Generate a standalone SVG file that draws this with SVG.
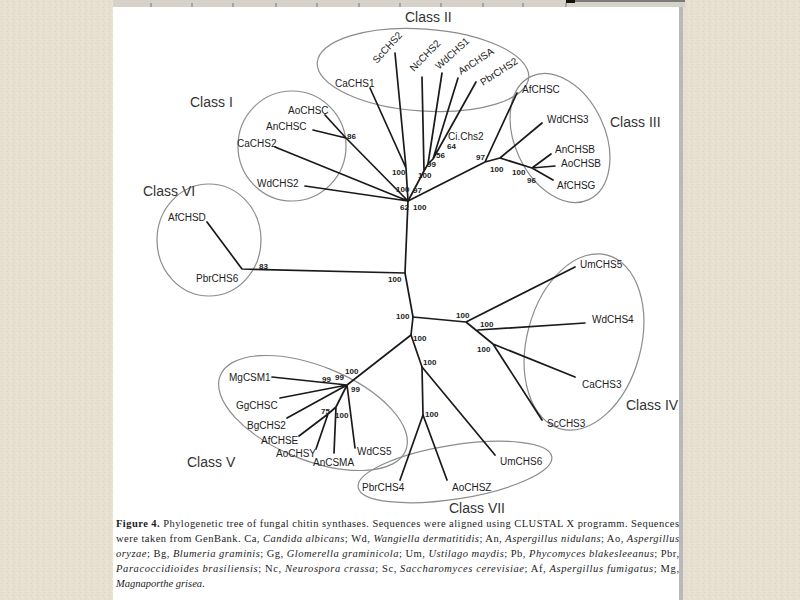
<svg xmlns="http://www.w3.org/2000/svg" width="800" height="600" viewBox="0 0 800 600">
<defs>
<pattern id="tex" width="6" height="6" patternUnits="userSpaceOnUse">
<rect width="6" height="6" fill="#e7dfd0"/>
<rect x="1" y="1" width="1" height="1" fill="#d9cfbd"/>
<rect x="4" y="3" width="1" height="1" fill="#f1ebe0"/>
<rect x="2" y="4" width="1" height="1" fill="#dcd2c1"/>
</pattern>
</defs>
<style>
.br{fill:none;stroke:#1a1a1a;stroke-width:1.7;stroke-linecap:round;stroke-linejoin:round}
.cl{fill:none;stroke:#8c8c8c;stroke-width:1.2}
.lf{font-family:"Liberation Sans",Arial,sans-serif;font-size:10px;fill:#222}
.bs{font-family:"Liberation Sans",Arial,sans-serif;font-size:8px;font-weight:bold;fill:#222}
.cn{font-family:"Liberation Sans",Arial,sans-serif;font-size:14px;fill:#333}
.cap{font-family:"Liberation Serif","Times New Roman",serif;font-size:10.5px;fill:#222}
.tk{stroke:#777;stroke-width:1}
</style>
<rect width="800" height="600" fill="url(#tex)"/>
<rect x="113" y="0" width="566" height="600" fill="#ffffff"/>
<rect x="679" y="0" width="4" height="600" fill="#b9b9b9"/>
<rect x="113" y="0" width="572" height="7" fill="#d6d2ca"/>
<rect x="566" y="0" width="119" height="2" fill="#7a7a7a"/>
<rect x="566" y="0" width="9" height="3" fill="#111"/>
<g id="ruler-ticks">
<line class="tk" x1="151" y1="3" x2="151" y2="7"/>
<line class="tk" x1="192" y1="3" x2="192" y2="7"/>
<line class="tk" x1="233" y1="3" x2="233" y2="7"/>
<line class="tk" x1="276" y1="3" x2="276" y2="7"/>
<line class="tk" x1="317" y1="3" x2="317" y2="7"/>
<line class="tk" x1="359" y1="3" x2="359" y2="7"/>
<line class="tk" x1="400" y1="3" x2="400" y2="7"/>
<line class="tk" x1="441" y1="3" x2="441" y2="7"/>
<line class="tk" x1="483" y1="3" x2="483" y2="7"/>
<line class="tk" x1="523" y1="3" x2="523" y2="7"/>
<line class="tk" x1="566" y1="3" x2="566" y2="7"/>
</g>

<g id="classes">
<ellipse class="cl" cx="423" cy="70" rx="106" ry="41" transform="rotate(4 423 70)"/>
<ellipse class="cl" cx="292" cy="146" rx="54" ry="55"/>
<ellipse class="cl" cx="560" cy="138" rx="45" ry="68" transform="rotate(-25 560 138)"/>
<ellipse class="cl" cx="209" cy="240" rx="52" ry="56"/>
<ellipse class="cl" cx="584" cy="342" rx="57" ry="90" transform="rotate(15 584 342)"/>
<ellipse class="cl" cx="313" cy="413" rx="100" ry="47" transform="rotate(22 313 413)"/>
<ellipse class="cl" cx="455" cy="472" rx="98" ry="27" transform="rotate(-9 455 472)"/>
</g>

<g id="connectors">
<path class="br" d="M408,201 L405,273 L413,317 L411,335 L422,367 L423,415"/>
<path class="br" d="M408,201 L406,168 L370,88 M406,168 L395,53"/>
<path class="br" d="M408,201 L424,171 L428,164 L433,159 L476,82 M424,171 L422,77 M428,164 L442,73 M433,159 L458,78"/>
<path class="br" d="M408,201 L346,138 L325,115 M346,138 L313,130 M408,201 L275,147 M408,201 L305,186"/>
<path class="br" d="M408,201 L485,162 L517,93 M485,162 L500,158 L542,123 M500,158 L532,168 L551,154 M532,168 L555,166 M532,168 L553,180"/>
<path class="br" d="M405,273 L242,269 L207,222"/>
<path class="br" d="M413,317 L466,322 L575,267 M466,322 L493,344 L575,377 M493,344 L542,420 M478,330 L585,323"/>
<path class="br" d="M422,367 L495,455 M423,415 L400,480 M423,415 L447,480"/>
<path class="br" d="M411,335 L347,385 L272,377 M347,385 L280,398 M347,385 L287,418 M347,385 L355,448 M347,385 L336,407 L334,453 M336,407 L328,414 L299,436 M328,414 L316,449"/>
</g>

<g id="leaf-labels">
<text class="lf" x="377" y="64" transform="rotate(-48 377 64)">ScCHS2</text>
<text class="lf" x="414" y="72" transform="rotate(-46 414 72)">NcCHS2</text>
<text class="lf" x="439" y="70" transform="rotate(-42 439 70)">WdCHS1</text>
<text class="lf" x="461" y="75" transform="rotate(-33 461 75)">AnCHSA</text>
<text class="lf" x="483" y="86" transform="rotate(-33 483 86)">PbrCHS2</text>
<text class="lf" x="335" y="87">CaCHS1</text>
<text class="lf" x="448" y="140">Ci.Chs2</text>
<text class="lf" x="288" y="114">AoCHSC</text>
<text class="lf" x="266" y="130">AnCHSC</text>
<text class="lf" x="237" y="147">CaCHS2</text>
<text class="lf" x="257" y="187">WdCHS2</text>
<text class="lf" x="522" y="93">AfCHSC</text>
<text class="lf" x="547" y="123">WdCHS3</text>
<text class="lf" x="555" y="153">AnCHSB</text>
<text class="lf" x="561" y="167">AoCHSB</text>
<text class="lf" x="557" y="189">AfCHSG</text>
<text class="lf" x="168" y="221">AfCHSD</text>
<text class="lf" x="196" y="282">PbrCHS6</text>
<text class="lf" x="580" y="268">UmCHS5</text>
<text class="lf" x="592" y="323">WdCHS4</text>
<text class="lf" x="582" y="388">CaCHS3</text>
<text class="lf" x="547" y="427">ScCHS3</text>
<text class="lf" x="229" y="381">MgCSM1</text>
<text class="lf" x="236" y="409">GgCHSC</text>
<text class="lf" x="247" y="429">BgCHS2</text>
<text class="lf" x="261" y="444">AfCHSE</text>
<text class="lf" x="276" y="457">AoCHSY</text>
<text class="lf" x="313" y="466">AnCSMA</text>
<text class="lf" x="357" y="455">WdCS5</text>
<text class="lf" x="362" y="491">PbrCHS4</text>
<text class="lf" x="452" y="491">AoCHSZ</text>
<text class="lf" x="500" y="465">UmCHS6</text>
</g>

<g id="bootstrap">
<text class="bs" x="392" y="175">100</text>
<text class="bs" x="427" y="167">99</text>
<text class="bs" x="418" y="178">100</text>
<text class="bs" x="436" y="158">56</text>
<text class="bs" x="447" y="149">64</text>
<text class="bs" x="347" y="139">86</text>
<text class="bs" x="396" y="192">100</text>
<text class="bs" x="413" y="193">97</text>
<text class="bs" x="400" y="210">62</text>
<text class="bs" x="413" y="210">100</text>
<text class="bs" x="476" y="160">97</text>
<text class="bs" x="490" y="172">100</text>
<text class="bs" x="512" y="175">100</text>
<text class="bs" x="527" y="183">96</text>
<text class="bs" x="259" y="269">83</text>
<text class="bs" x="388" y="282">100</text>
<text class="bs" x="396" y="319">100</text>
<text class="bs" x="456" y="318">100</text>
<text class="bs" x="480" y="327">100</text>
<text class="bs" x="477" y="352">100</text>
<text class="bs" x="413" y="341">100</text>
<text class="bs" x="423" y="365">100</text>
<text class="bs" x="425" y="417">100</text>
<text class="bs" x="322" y="382">99</text>
<text class="bs" x="335" y="380">99</text>
<text class="bs" x="345" y="374">100</text>
<text class="bs" x="351" y="392">99</text>
<text class="bs" x="321" y="414">75</text>
<text class="bs" x="335" y="418">100</text>
</g>

<g id="class-names">
<text class="cn" x="405" y="22">Class II</text>
<text class="cn" x="190" y="107">Class I</text>
<text class="cn" x="610" y="127">Class III</text>
<text class="cn" x="143" y="196">Class VI</text>
<text class="cn" x="626" y="410">Class IV</text>
<text class="cn" x="187" y="467">Class V</text>
<text class="cn" x="449" y="513">Class VII</text>
</g>

<g id="caption">
<text class="cap" x="116" y="527" textLength="563" lengthAdjust="spacing"><tspan font-weight="bold">Figure 4.</tspan> Phylogenetic tree of fungal chitin synthases. Sequences were aligned using CLUSTAL X programm. Sequences</text>
<text class="cap" x="116" y="542" textLength="563" lengthAdjust="spacing">were taken from GenBank. Ca, <tspan font-style="italic">Candida albicans</tspan>; Wd, <tspan font-style="italic">Wangiella dermatitidis</tspan>; An, <tspan font-style="italic">Aspergillus nidulans</tspan>; Ao, <tspan font-style="italic">Aspergillus</tspan></text>
<text class="cap" x="116" y="557" textLength="563" lengthAdjust="spacing"><tspan font-style="italic">oryzae</tspan>; Bg, <tspan font-style="italic">Blumeria graminis</tspan>; Gg, <tspan font-style="italic">Glomerella graminicola</tspan>; Um, <tspan font-style="italic">Ustilago maydis</tspan>; Pb, <tspan font-style="italic">Phycomyces blakesleeanus</tspan>; Pbr,</text>
<text class="cap" x="116" y="572" textLength="563" lengthAdjust="spacing"><tspan font-style="italic">Paracoccidioides brasiliensis</tspan>; Nc, <tspan font-style="italic">Neurospora crassa</tspan>; Sc, <tspan font-style="italic">Saccharomyces cerevisiae</tspan>; Af, <tspan font-style="italic">Aspergillus fumigatus</tspan>; Mg,</text>
<text class="cap" x="116" y="587"><tspan font-style="italic">Magnaporthe grisea</tspan>.</text>
</g>
</svg>
